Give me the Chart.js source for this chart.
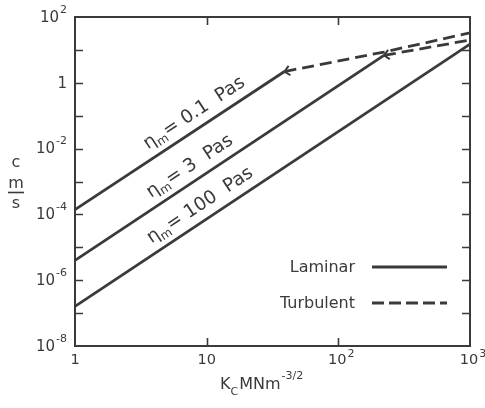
<!DOCTYPE html>
<html><head><meta charset="utf-8">
<script src="https://cdn.jsdelivr.net/npm/chart.js@4"></script>
<style>html,body{margin:0;padding:0;background:#fff}#wrap{width:485px;height:408px}</style>
</head><body><div id="wrap"><canvas id="c" width="485" height="408"></canvas></div>
<script>
// ---- data ----
const viscosities = ['0.1', '3', '100'];            // eta_m in Pa s
const laminar01  = [{x:1, y:1.4e-4}, {x:39,  y:2.2}];
const laminar3   = [{x:1, y:4e-6},   {x:222, y:6.8}];
const laminar100 = [{x:1, y:1.6e-7}, {x:1000, y:15}];
const turbulent01 = [{x:39, y:2.2}, {x:222, y:8.6}, {x:1000, y:33}];
const turbulent3  = [{x:222, y:6.8}, {x:1000, y:20}];
const labelAnchorX = [9.3, 8.6, 10.3];               // where each eta label sits along its line

const xTickValues = [1, 10, 100, 1000];
const xTickBase   = ['1', '10', '10', '10'];
const xTickExp    = ['', '', '2', '3'];
const xMinorTicks = [10, 100];
const yTickValues = [1e2, 1, 1e-2, 1e-4, 1e-6, 1e-8];
const yTickBase   = ['10', '1', '10', '10', '10', '10'];
const yTickExp    = ['2', '', '-2', '-4', '-6', '-8'];
const yDecadeTicks = [1e-7,1e-6,1e-5,1e-4,1e-3,1e-2,1e-1,1,10];

const INK = '#3a3a3a';
const FONT = '"DejaVu Sans", sans-serif';

function f(size){ return size + 'px ' + FONT; }

const decor = {
  id: 'decor',
  afterDraw(chart) {
    const ctx = chart.ctx, a = chart.chartArea;
    const xs = chart.scales.x, ys = chart.scales.y;
    ctx.save();
    ctx.strokeStyle = INK; ctx.fillStyle = INK;
    // frame
    ctx.lineWidth = 2;
    ctx.strokeRect(a.left, a.top, a.right - a.left, a.bottom - a.top);
    // inward ticks
    ctx.lineWidth = 1.6;
    const tl = 8;
    yDecadeTicks.forEach(v => {
      const y = Math.round(ys.getPixelForValue(v)) + 0.5;
      ctx.beginPath();
      ctx.moveTo(a.left, y); ctx.lineTo(a.left + tl, y);
      ctx.moveTo(a.right, y); ctx.lineTo(a.right - tl, y);
      ctx.stroke();
    });
    xMinorTicks.forEach(v => {
      const x = Math.round(xs.getPixelForValue(v)) + 0.5;
      ctx.beginPath();
      ctx.moveTo(x, a.top); ctx.lineTo(x, a.top + tl);
      ctx.moveTo(x, a.bottom); ctx.lineTo(x, a.bottom - tl);
      ctx.stroke();
    });
    // y tick labels
    ctx.textBaseline = 'middle';
    yTickValues.forEach((v, i) => {
      const y = ys.getPixelForValue(v);
      let right = a.left - 8;
      ctx.font = f(11);
      const ew = yTickExp[i] ? ctx.measureText(yTickExp[i]).width : 0;
      ctx.textAlign = 'left';
      if (ew) ctx.fillText(yTickExp[i], right - ew, y - 7);
      ctx.font = f(15);
      ctx.textAlign = 'right';
      ctx.fillText(yTickBase[i], right - ew - (ew ? 1 : 0), y + 1);
    });
    // x tick labels
    xTickValues.forEach((v, i) => {
      const x = xs.getPixelForValue(v);
      ctx.font = f(14.5);
      ctx.textAlign = 'center'; ctx.textBaseline = 'alphabetic';
      const bw = ctx.measureText(xTickBase[i]).width;
      ctx.fillText(xTickBase[i], x - (xTickExp[i] ? 1 : 0), a.bottom + 18);
      if (xTickExp[i]) {
        ctx.font = f(11); ctx.textAlign = 'left';
        ctx.fillText(xTickExp[i], x + bw / 2, a.bottom + 11);
      }
    });
    // x axis title: K_C MNm^-3/2
    {
      let x = 220, base = 389;
      ctx.textAlign = 'left'; ctx.textBaseline = 'alphabetic';
      ctx.font = f(16); ctx.fillText('K', x, base); x += ctx.measureText('K').width;
      ctx.font = f(11); ctx.fillText('C', x, base + 6); x += ctx.measureText('C').width + 1;
      ctx.font = f(16); ctx.fillText('MNm', x, base); x += ctx.measureText('MNm').width + 1;
      ctx.font = f(11); ctx.fillText('-3/2', x, base - 10);
    }
    // y axis title: c over m/s
    {
      ctx.textAlign = 'center'; ctx.textBaseline = 'alphabetic';
      ctx.font = f(16);
      ctx.fillText('c', 16, 167);
      ctx.fillText('m', 16, 188);
      ctx.lineWidth = 1.6;
      ctx.beginPath(); ctx.moveTo(8, 192.5); ctx.lineTo(24, 192.5); ctx.stroke();
      ctx.fillText('s', 16, 208);
    }
    // legend
    {
      ctx.font = f(16); ctx.textAlign = 'right'; ctx.textBaseline = 'middle';
      const tx = a.right - 115, lx0 = a.right - 98, lx1 = a.right - 23;
      const y1 = a.bottom - 79, y2 = a.bottom - 43;
      ctx.fillText('Laminar', tx, y1 + 1);
      ctx.fillText('Turbulent', tx, y2 + 1);
      ctx.lineWidth = 2.8; ctx.lineCap = 'butt';
      ctx.beginPath(); ctx.moveTo(lx0, y1); ctx.lineTo(lx1, y1); ctx.stroke();
      ctx.setLineDash([12, 5]);
      ctx.beginPath(); ctx.moveTo(lx0, y2); ctx.lineTo(lx1, y2); ctx.stroke();
      ctx.setLineDash([]);
    }
    // arrowheads at start of turbulent branches
    [3, 4].forEach(di => {
      const pts = chart.getDatasetMeta(di).data;
      const p0 = pts[0], p1 = pts[1];
      const ang = Math.atan2(p1.y - p0.y, p1.x - p0.x);
      ctx.lineWidth = 2;
      ctx.beginPath();
      [0.75, -0.75].forEach(d => {
        ctx.moveTo(p0.x, p0.y);
        ctx.lineTo(p0.x + 7 * Math.cos(ang + d), p0.y + 7 * Math.sin(ang + d));
      });
      ctx.stroke();
    });
    // eta labels along laminar lines
    [0, 1, 2].forEach(di => {
      const pts = chart.getDatasetMeta(di).data;
      const p0 = pts[0], p1 = pts[1];
      const ang = Math.atan2(p1.y - p0.y, p1.x - p0.x);
      const px = xs.getPixelForValue(labelAnchorX[di]);
      const py = p0.y + (p1.y - p0.y) * (px - p0.x) / (p1.x - p0.x);
      ctx.save();
      ctx.translate(px, py); ctx.rotate(ang);
      ctx.textAlign = 'left'; ctx.textBaseline = 'alphabetic';
      const rest = '= ' + viscosities[di] + '  Pas';
      ctx.font = f(18.5); const w1 = ctx.measureText('\u03b7').width, w3 = ctx.measureText(rest).width;
      ctx.font = f(12); const w2 = ctx.measureText('m').width;
      let x = -(w1 + w2 + w3) / 2; const by = -10;
      ctx.font = f(18.5); ctx.fillText('\u03b7', x, by); x += w1;
      ctx.font = f(12); ctx.fillText('m', x, by + 4); x += w2;
      ctx.font = f(18.5); ctx.fillText(rest, x, by);
      ctx.restore();
    });
    ctx.restore();
  }
};

const lam = {borderColor: INK, borderWidth: 2.8, pointRadius: 0, fill: false, tension: 0, borderCapStyle: 'butt'};
const tur = Object.assign({}, lam, {borderDash: [12, 6]});

new Chart(document.getElementById('c'), {
  type: 'line',
  data: {
    datasets: [
      Object.assign({label: 'Laminar 0.1', data: laminar01}, lam),
      Object.assign({label: 'Laminar 3', data: laminar3}, lam),
      Object.assign({label: 'Laminar 100', data: laminar100}, lam),
      Object.assign({label: 'Turbulent 0.1', data: turbulent01}, tur),
      Object.assign({label: 'Turbulent 3', data: turbulent3}, tur)
    ]
  },
  options: {
    responsive: false, animation: false,
    layout: {padding: {left: 0, right: 15, top: 17, bottom: 0}},
    plugins: {legend: {display: false}, tooltip: {enabled: false}},
    scales: {
      x: {type: 'logarithmic', min: 1, max: 1000, grid: {display: false}, border: {display: false},
          ticks: {display: false}, afterFit(s) { s.height = 62; }},
      y: {type: 'logarithmic', min: 1e-8, max: 100, grid: {display: false}, border: {display: false},
          ticks: {display: false}, afterFit(s) { s.width = 75; }}
    }
  },
  plugins: [decor]
});
</script></body></html>
